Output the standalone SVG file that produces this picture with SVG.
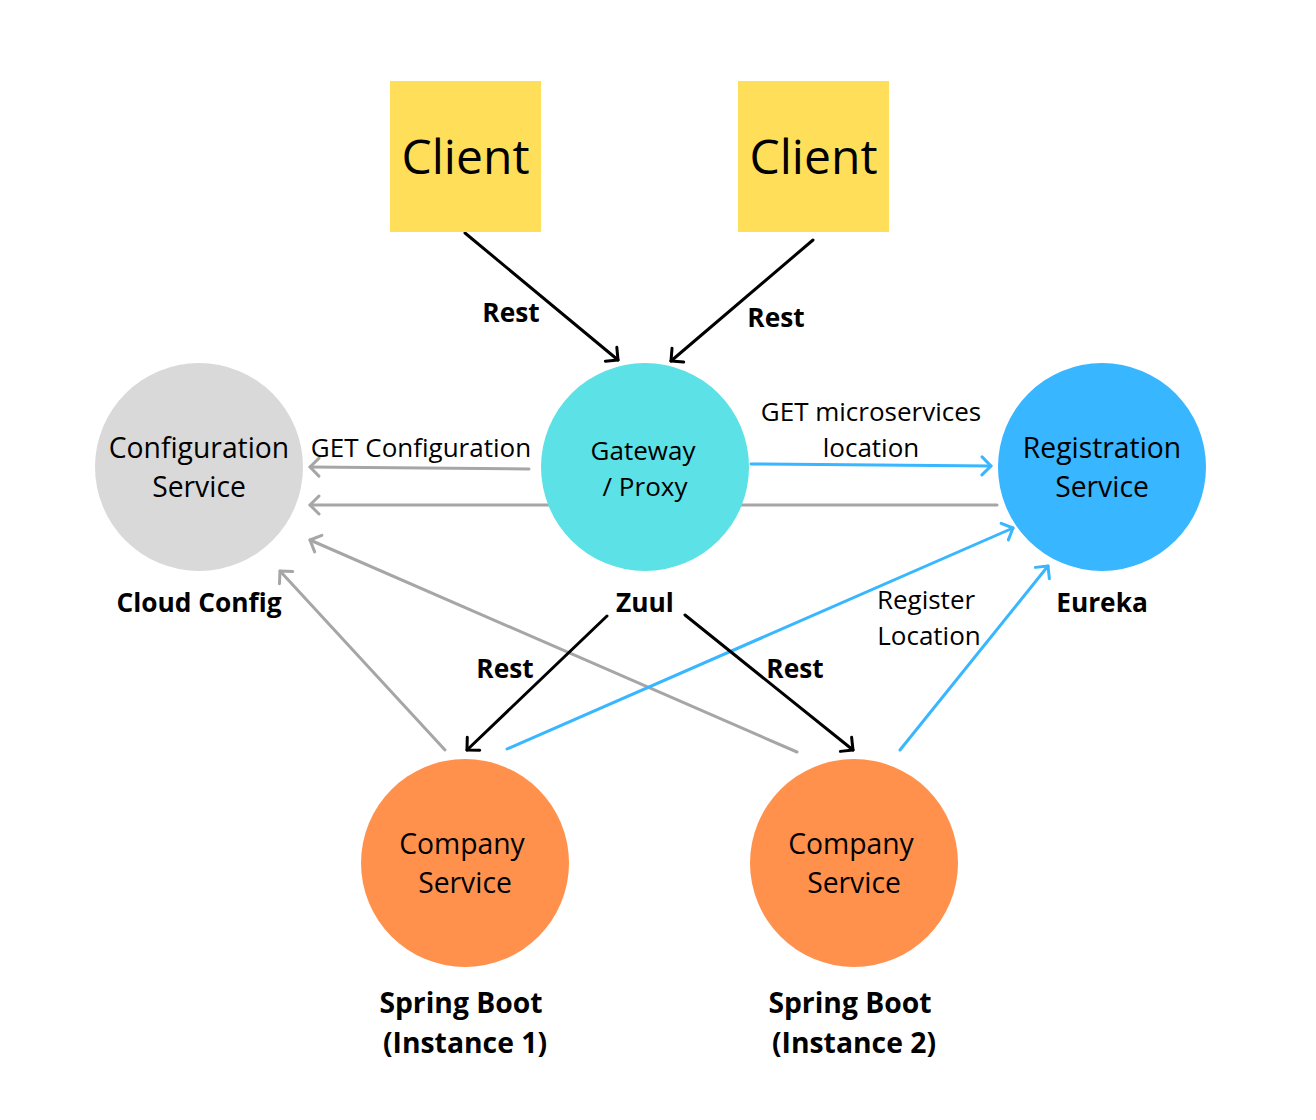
<svg xmlns="http://www.w3.org/2000/svg" width="1316" height="1120" viewBox="0 0 1316 1120">
<style>
text{font-family:"Open Sans","Noto Sans","Liberation Sans",sans-serif;fill:#000;text-anchor:middle}
.big{font-size:48px}
.node{font-size:28.3px}
.gw{font-size:26px}
.lbl{font-size:26px}
.b{font-size:26.3px;font-weight:bold}
.sb{font-size:28.3px;font-weight:bold}
.blk{stroke:#000;stroke-width:3;fill:none;stroke-linecap:round}
.gry{stroke:#A6A6A6;stroke-width:3;fill:none;stroke-linecap:round}
.blu{stroke:#38B6FF;stroke-width:3;fill:none;stroke-linecap:round}
</style>
<defs>
<marker id="mk" viewBox="-12 -12 14 24" refX="0" refY="0" markerWidth="14" markerHeight="24" markerUnits="userSpaceOnUse" orient="auto">
<path d="M-9,-9 L0,0 L-9,9" fill="none" stroke="#000" stroke-width="3" stroke-linecap="round" stroke-linejoin="round"/>
</marker>
<marker id="mg" viewBox="-12 -12 14 24" refX="0" refY="0" markerWidth="14" markerHeight="24" markerUnits="userSpaceOnUse" orient="auto">
<path d="M-9,-9 L0,0 L-9,9" fill="none" stroke="#A6A6A6" stroke-width="3" stroke-linecap="round" stroke-linejoin="round"/>
</marker>
<marker id="mb" viewBox="-12 -12 14 24" refX="0" refY="0" markerWidth="14" markerHeight="24" markerUnits="userSpaceOnUse" orient="auto">
<path d="M-9,-9 L0,0 L-9,9" fill="none" stroke="#38B6FF" stroke-width="3" stroke-linecap="round" stroke-linejoin="round"/>
</marker>
</defs>
<rect width="1316" height="1120" fill="#fff"/>
<g id="connectors">
<line class="gry" x1="997" y1="505" x2="310" y2="505" marker-end="url(#mg)"/>
<line class="blk" x1="465" y1="233" x2="618" y2="360" marker-end="url(#mk)"/>
<line class="blk" x1="813" y1="240" x2="671" y2="361" marker-end="url(#mk)"/>
<line class="gry" x1="529" y1="469" x2="310" y2="467" marker-end="url(#mg)"/>
<line class="blu" x1="751" y1="464" x2="991" y2="466" marker-end="url(#mb)"/>
<line class="gry" x1="797" y1="752" x2="310" y2="540" marker-end="url(#mg)"/>
<line class="gry" x1="445" y1="750" x2="280" y2="571" marker-end="url(#mg)"/>
<line class="blu" x1="507" y1="749" x2="1013" y2="528" marker-end="url(#mb)"/>
<line class="blu" x1="900" y1="750" x2="1048" y2="566" marker-end="url(#mb)"/>
<line class="blk" x1="607" y1="616" x2="467" y2="750" marker-end="url(#mk)"/>
<line class="blk" x1="685" y1="615" x2="853" y2="750" marker-end="url(#mk)"/>
</g>
<g id="client1"><rect x="390" y="81" width="151" height="151" fill="#FFDE59"/><text class="big" x="465.5" y="174">Client</text></g>
<g id="client2"><rect x="738" y="81" width="151" height="151" fill="#FFDE59"/><text class="big" x="813.5" y="174">Client</text></g>
<g id="gateway"><circle cx="645" cy="467" r="104" fill="#5CE1E6"/><text class="gw" x="643" y="460">Gateway</text><text class="gw" x="645" y="496">/ Proxy</text><text class="b" x="645" y="612">Zuul</text></g>
<g id="config"><circle cx="199" cy="467" r="104" fill="#D9D9D9"/><text class="node" x="199" y="458">Configuration</text><text class="node" x="199" y="497">Service</text><text class="b" x="199" y="612">Cloud Config</text></g>
<g id="registration"><circle cx="1102" cy="467" r="104" fill="#38B6FF"/><text class="node" x="1102" y="458">Registration</text><text class="node" x="1102" y="497">Service</text><text class="b" x="1102" y="612">Eureka</text></g>
<g id="company1"><circle cx="465" cy="863" r="104" fill="#FF914D"/><text class="node" x="462" y="854">Company</text><text class="node" x="465" y="893">Service</text><text class="sb" x="461" y="1013">Spring Boot</text><text class="sb" x="465" y="1053">(Instance 1)</text></g>
<g id="company2"><circle cx="854" cy="863" r="104" fill="#FF914D"/><text class="node" x="851" y="854">Company</text><text class="node" x="854" y="893">Service</text><text class="sb" x="850" y="1013">Spring Boot</text><text class="sb" x="854" y="1053">(Instance 2)</text></g>
<g id="labels">
<text class="b" x="511" y="322">Rest</text>
<text class="b" x="776" y="327">Rest</text>
<text class="b" x="505" y="678">Rest</text>
<text class="b" x="795" y="678">Rest</text>
<text class="lbl" x="421" y="457">GET Configuration</text>
<text class="lbl" x="871" y="421">GET microservices</text>
<text class="lbl" x="871" y="457">location</text>
<text class="lbl" x="926" y="609">Register</text>
<text class="lbl" x="929" y="645">Location</text>
</g>
</svg>
